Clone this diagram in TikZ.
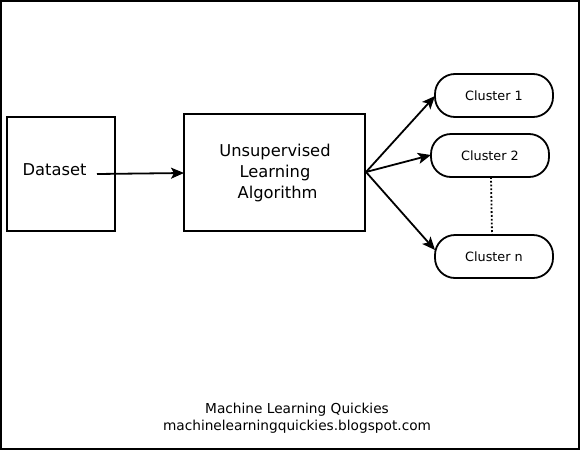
\documentclass[tikz,border=0pt]{standalone}
\usepackage{fontspec}
\setmainfont{DejaVu Sans}
\usetikzlibrary{arrows.meta}
\begin{document}
\begin{tikzpicture}[x=1pt,y=-1pt,
  box/.style={draw,line width=2pt},
  clus/.style={draw,line width=1.8pt,rounded corners=20pt},
  arr/.style={line width=1.8pt,-{Stealth[length=13pt,width=11pt,inset=3pt]}},
  lbl/.style={font=\fontsize{16.3}{21}\selectfont,align=center},
  clbl/.style={font=\fontsize{12.8}{15}\selectfont}]
\useasboundingbox (0,0) rectangle (580,450);
\draw[line width=2pt] (1,1) rectangle (579,449);
\draw[box] (7,117) rectangle (115,231);
\node[lbl] (ds) at (54.5,170) {Dataset};
\coordinate (dsout) at (97,174);
\draw[box] (184,114) rectangle (365,231);
\node[lbl] (alg) at (275,173) {Unsupervised\\Learning\\\ Algorithm};
\coordinate (aout) at (366,172);
\coordinate (ain) at (184,173);
\draw[clus] (435,74) rectangle (553,117);
\node[clbl] (c1) at (494,96) {Cluster 1};
\draw[clus] (431,134) rectangle (549,177);
\node[clbl] (c2) at (490,156) {Cluster 2};
\draw[clus] (435,235) rectangle (553,278);
\node[clbl] (cn) at (494,257) {Cluster n};
\coordinate (c1in) at (435,96);
\coordinate (c2in) at (431,155);
\coordinate (cnin) at (435,250);
\draw[arr] (dsout) -- (ain);
\draw[arr] (aout) -- (c1in);
\draw[arr] (aout) -- (c2in);
\draw[arr] (aout) -- (cnin);
\coordinate (c2b) at (491,177);
\coordinate (cnt) at (492,235);
\draw[line width=1.8pt,dotted] (c2b) -- (cnt);
\node[font=\fontsize{13.7}{17}\selectfont,align=center] (foot) at (297,418) {Machine Learning Quickies\\machinelearningquickies.blogspot.com};
\end{tikzpicture}
\end{document}
